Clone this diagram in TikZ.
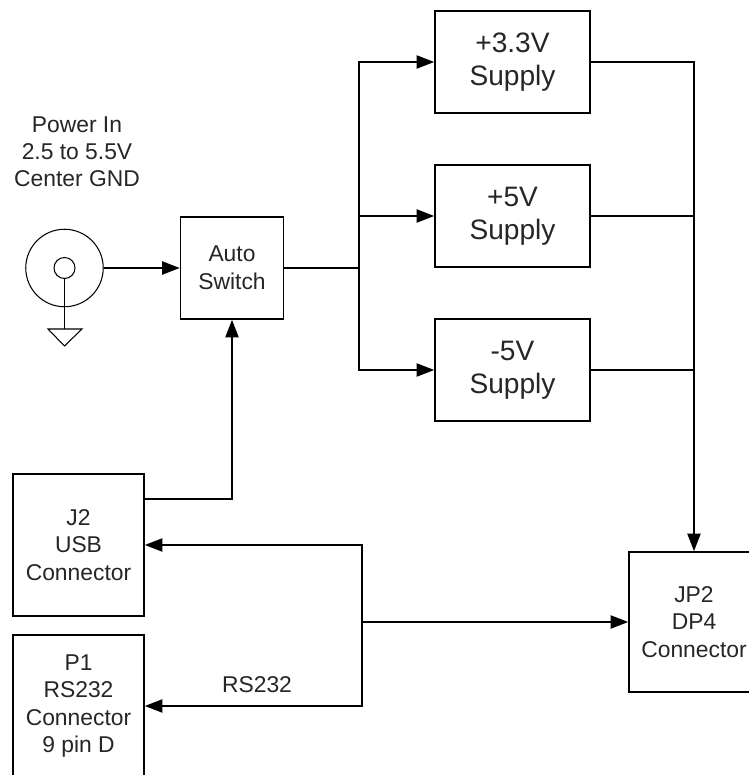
\documentclass[tikz,border=0pt]{standalone}
\usepackage{fontspec}
\setmainfont{Liberation Sans}
\usetikzlibrary{arrows.meta}
\tikzset{
  blockbox/.style={draw,line width=0.95pt,inner sep=0pt,align=center,text=black!85,
    font=\fontsize{13}{15.7}\selectfont},
  supplybox/.style={blockbox,minimum width=3.1cm,minimum height=2.04cm,
    font=\fontsize{16}{18.8}\selectfont},
  jackring/.style={draw,circle,line width=0.6pt,inner sep=0pt},
  plaintext/.style={align=center,text=black!85,font=\fontsize{13}{15.4}\selectfont},
  wire/.style={line width=0.95pt},
  arrowline/.style={wire,-{Triangle[length=10pt,width=7.5pt]}},
}
\begin{document}
\begin{tikzpicture}[x=0.02cm,y=0.02cm]
    \useasboundingbox (0,0) rectangle (749,775);
    \fill[white] (0,0) rectangle (749,775);
    % power jack
    \node[plaintext] (powerin) at (77,623) {Power In\\2.5 to 5.5V\\Center GND};
    \node[jackring,minimum size=1.55cm] (jack) at (64.5,507) {};
    \node[jackring,minimum size=0.42cm] (jackpin) at (64.5,507) {};
    \coordinate (gnd) at (64.5,446);
    \coordinate (gndleft) at (48,446);
    \coordinate (gndright) at (82,446);
    \coordinate (gndtip) at (64.5,429);
    \draw[line width=0.6pt] (jackpin.south) -- (gnd);
    \draw[line width=0.6pt] (gndleft) -- (gndright) -- (gndtip) -- cycle;
    % blocks
    \node[blockbox,minimum width=2.06cm,minimum height=2.04cm] (auto) at (232,507) {Auto\\Switch};
    \node[supplybox] (supplyA) at (512.5,713) {+3.3V\\Supply};
    \node[supplybox] (supplyB) at (512.5,559) {+5V\\Supply};
    \node[supplybox] (supplyC) at (512.5,405) {-5V\\Supply};
    \node[blockbox,minimum width=2.62cm,minimum height=2.84cm] (usb) at (78.5,230) {J2\\USB\\Connector};
    \node[blockbox,minimum width=2.62cm,minimum height=2.84cm] (rs) at (78.5,69) {P1\\RS232\\Connector\\9 pin D};
    \node[blockbox,minimum width=2.6cm,minimum height=2.8cm] (dp) at (694,153) {JP2\\DP4\\Connector};
    \node[plaintext] (rslabel) at (257,90) {RS232};
    % junctions
    \coordinate (split) at (359,507);
    \coordinate (bus) at (362,153);
    \coordinate (usbout) at (144,276);
    % connectors
    \draw[arrowline] (jack.east) -- (auto.west);
    \draw[wire] (auto.east) -- (split);
    \draw[arrowline] (split) |- (supplyA.west);
    \draw[arrowline] (split |- supplyB.west) -- (supplyB.west);
    \draw[arrowline] (split) |- (supplyC.west);
    \draw[arrowline] (supplyA.east) -| (dp.north);
    \draw[wire] (supplyB.east) -- (supplyB.east -| dp.north);
    \draw[wire] (supplyC.east) -- (supplyC.east -| dp.north);
    \draw[arrowline] (usbout) -| (auto.south);
    \draw[arrowline] (bus) |- (usb.east);
    \draw[arrowline] (bus) |- (rs.east);
    \draw[arrowline] (bus) -- (dp.west);
\end{tikzpicture}
\end{document}
